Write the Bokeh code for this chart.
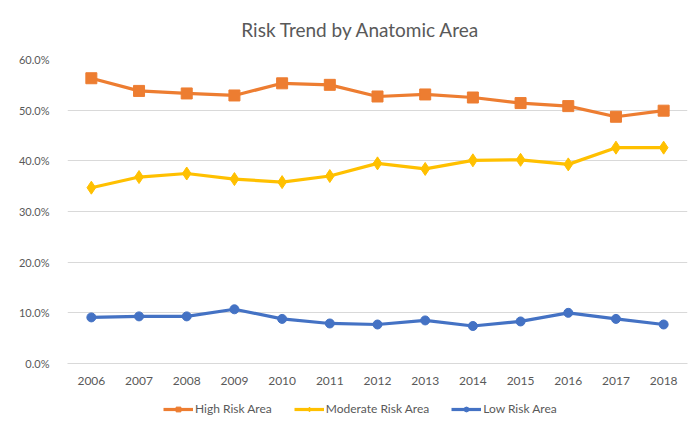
from bokeh.plotting import figure
from bokeh.layouts import column
from bokeh.models import (ColumnDataSource, FactorRange, Range1d, FixedTicker,
                          PrintfTickFormatter, Legend, LegendItem, Label)
from bokeh.embed import file_html
from bokeh.resources import INLINE

title_text = "Risk Trend by Anatomic Area"
years = ["2006", "2007", "2008", "2009", "2010", "2011", "2012",
         "2013", "2014", "2015", "2016", "2017", "2018"]
high_risk = [56.3, 53.8, 53.3, 52.9, 55.3, 55.0, 52.7, 53.1, 52.5, 51.4, 50.8, 48.7, 49.9]
moderate_risk = [34.7, 36.8, 37.5, 36.4, 35.8, 37.0, 39.5, 38.4, 40.1, 40.2, 39.3, 42.6, 42.6]
low_risk = [9.1, 9.3, 9.3, 10.7, 8.8, 7.9, 7.7, 8.5, 7.4, 8.3, 10.0, 8.8, 7.7]
y_ticks = [0, 10, 20, 30, 40, 50, 60]
series_names = ["High Risk Area", "Moderate Risk Area", "Low Risk Area"]

FONT = "Lato"
GREY = "#595959"
ORANGE = "#ED7D31"
YELLOW = "#FFC000"
BLUE = "#4472C4"

src = ColumnDataSource(dict(year=years, high=high_risk, mod=moderate_risk, low=low_risk))

# title strip
t = figure(width=691, height=49, x_range=Range1d(0, 691), y_range=Range1d(0, 49),
           output_backend="svg", toolbar_location=None,
           x_axis_location=None, y_axis_location=None,
           min_border_left=0, min_border_right=0, min_border_top=0, min_border_bottom=0)
t.outline_line_color = None
t.grid.grid_line_color = None
t.add_layout(Label(x=327, y=20, text=title_text, text_align="center", text_baseline="middle",
                   text_font=FONT, text_font_size="19px", text_color=GREY))

p = figure(width=691, height=344, x_range=FactorRange(*years), y_range=Range1d(0, 60),
           output_backend="svg", toolbar_location=None,
           min_border_left=67, min_border_right=4, min_border_top=10, min_border_bottom=30)

p.outline_line_color = None
p.xgrid.grid_line_color = None
p.ygrid.grid_line_color = "#D9D9D9"
p.ygrid.grid_line_width = 1

p.yaxis.ticker = FixedTicker(ticks=y_ticks)
p.yaxis.formatter = PrintfTickFormatter(format="%.1f%%")
p.yaxis.axis_line_color = None
p.yaxis.major_tick_line_color = None
p.yaxis.minor_tick_line_color = None
p.yaxis.major_label_text_font = FONT
p.yaxis.major_label_text_font_size = "11px"
p.yaxis.major_label_text_color = GREY
p.yaxis.major_label_standoff = 12

p.xaxis.axis_line_color = "#D9D9D9"
p.xaxis.major_tick_line_color = None
p.xaxis.minor_tick_line_color = None
p.xaxis.major_label_text_font = FONT
p.xaxis.major_label_text_font_size = "12px"
p.xaxis.major_label_text_color = GREY
p.xaxis.major_label_standoff = 7

styles = [("high", ORANGE, "square", 11), ("mod", YELLOW, "diamond", 13), ("low", BLUE, "circle", 9)]
for col, color, marker, size in styles:
    p.line("year", col, source=src, color=color, line_width=3.2)
    p.scatter("year", col, source=src, marker=marker, size=size, color=color)

# legend strip: same series drawn out of view, only its legend shows
q = figure(width=691, height=26, x_range=p.x_range, y_range=Range1d(1000, 1001),
           output_backend="svg", toolbar_location=None,
           x_axis_location=None, y_axis_location=None,
           min_border_left=0, min_border_right=0, min_border_top=0, min_border_bottom=0)
q.outline_line_color = None
q.grid.grid_line_color = None

items = []
for (col, color, marker, size), name in zip(styles, series_names):
    ln = q.line("year", col, source=src, color=color, line_width=3.2)
    mk = q.scatter("year", col, source=src, marker=marker, size=size * 0.8, color=color)
    items.append(LegendItem(label=name, renderers=[ln, mk]))

legend = Legend(items=items, orientation="horizontal", location=(96, 3),
                label_text_font=FONT, label_text_font_size="12px", label_text_color=GREY,
                glyph_width=30, glyph_height=12, label_standoff=2, spacing=22, padding=0,
                border_line_color=None, background_fill_alpha=0, margin=0)
q.add_layout(legend, "center")

layout = column(t, p, q, spacing=0)
open("out.html", "w").write(file_html(layout, INLINE))
